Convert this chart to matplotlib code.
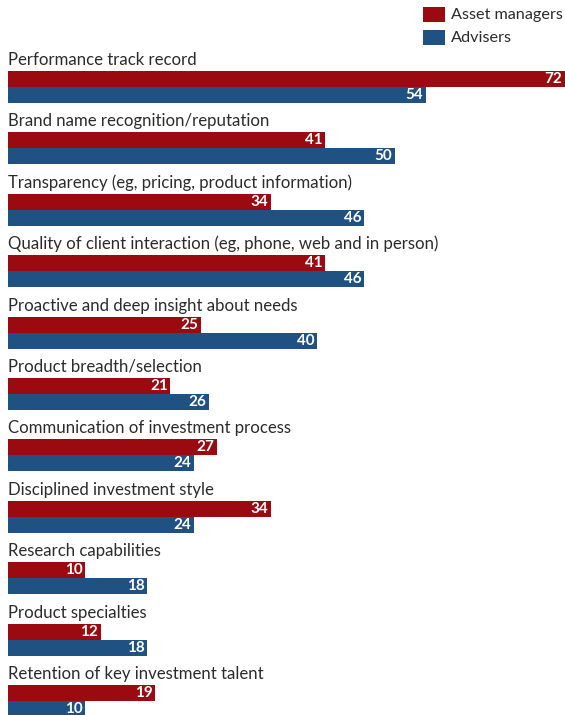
import matplotlib
matplotlib.use("Agg")
import matplotlib.pyplot as plt

categories = [
    "Performance track record",
    "Brand name recognition/reputation",
    "Transparency (eg, pricing, product information)",
    "Quality of client interaction (eg, phone, web and in person)",
    "Proactive and deep insight about needs",
    "Product breadth/selection",
    "Communication of investment process",
    "Disciplined investment style",
    "Research capabilities",
    "Product specialties",
    "Retention of key investment talent",
]
asset_managers = [72, 41, 34, 41, 25, 21, 27, 34, 10, 12, 19]
advisers = [54, 50, 46, 46, 40, 26, 24, 24, 18, 18, 10]
series_names = ["Asset managers", "Advisers"]

RED = "#9b0a10"
BLUE = "#1f5283"
TEXT = "#2b2b2b"
FONT = "Lato"

W, H = 565, 715
fig = plt.figure(figsize=(W / 100, H / 100), dpi=100)

# one y unit = one category block (61.4 px)
step = 61.4
top_px = 65.0  # baseline of first category label
ax = fig.add_axes([8 / W, 0, (W - 8) / W, 1])
ax.set_xlim(0, 72)
ax.set_ylim((H - top_px) / step, -top_px / step)
ax.axis("off")

bar_h = 16 / step
red_off = 14 / step
blue_off = 30 / step

for i, (cat, a, b) in enumerate(zip(categories, asset_managers, advisers)):
    ax.text(0, i, cat, ha="left", va="baseline", fontsize=12.1,
            family=FONT, color=TEXT)
    ax.barh(i + red_off, a, height=bar_h, left=0, color=RED, linewidth=0)
    ax.barh(i + blue_off, b, height=bar_h, left=0, color=BLUE, linewidth=0)
    ax.text(a - 0.35, i + red_off, f"{a}", ha="right", va="center",
            fontsize=11, family=FONT, weight="bold", color="white")
    ax.text(b - 0.35, i + blue_off, f"{b}", ha="right", va="center",
            fontsize=11, family=FONT, weight="bold", color="white")

# legend
for j, (name, col) in enumerate(zip(series_names, [RED, BLUE])):
    y0 = 7 + j * 23
    fig.patches.append(plt.Rectangle((423 / W, 1 - (y0 + 15) / H), 22 / W, 15 / H,
                                     transform=fig.transFigure, color=col, lw=0))
    fig.text(451 / W, 1 - (y0 + 7.5) / H, name, ha="left", va="center",
             fontsize=11.7, family=FONT, color=TEXT)

fig.savefig("out.png", dpi=100)
